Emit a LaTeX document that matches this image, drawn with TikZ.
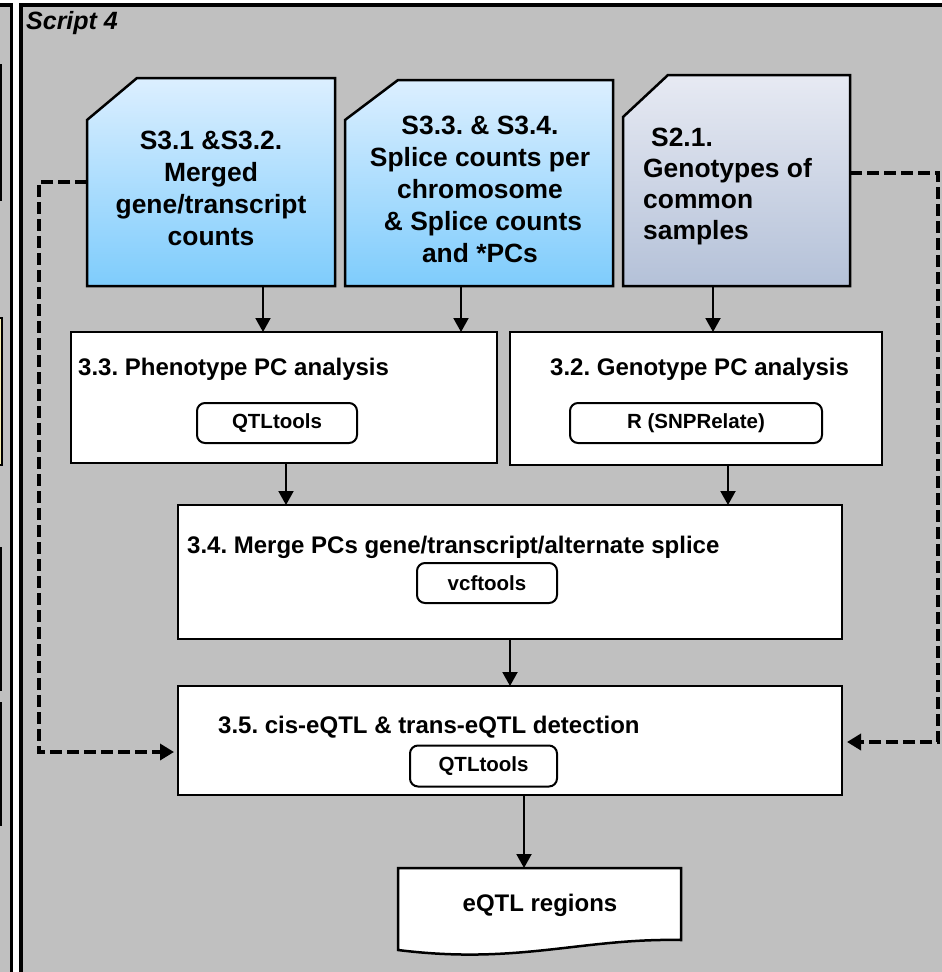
\documentclass[tikz,border=0pt]{standalone}
\usepackage{fontspec}
\setmainfont{Liberation Sans}
\usetikzlibrary{arrows.meta,backgrounds,calc}
\frenchspacing

\definecolor{panelgray}{HTML}{C0C0C0}
\definecolor{blueTop}{HTML}{DCEFFF}
\definecolor{blueBot}{HTML}{7ECCFC}
\definecolor{slateTop}{HTML}{E7EAF3}
\definecolor{slateBot}{HTML}{B4C1D8}
\definecolor{paleyellow}{HTML}{F6EDB0}

\newcommand\docfont{\bfseries\fontsize{26.4}{32}\selectfont}
\newcommand\docfontL{\bfseries\fontsize{26.4}{31}\selectfont}
\newcommand\titlefont{\bfseries\fontsize{24}{28}\selectfont}
\newcommand\toolfont{\bfseries\fontsize{20.5}{24}\selectfont}

\tikzset{
  panel/.style={draw=black, line width=3.5pt, fill=panelgray},
  edgebox/.style={draw=black, line width=2.5pt},
  area/.style={inner sep=0pt, outer sep=0pt},
  docshape/.style={draw=black, line width=2.5pt},
  doctext/.style={inner sep=0pt, font=\docfont, align=center},
  stepbox/.style={draw=black, line width=2.2pt, fill=white, inner sep=0pt, outer sep=0pt},
  steptitle/.style={inner sep=0pt, anchor=base west, font=\titlefont},
  toolbox/.style={draw=black, line width=2pt, fill=white, rounded corners=8pt,
                  inner sep=0pt, font=\toolfont},
  arr/.style={line width=2pt, -{Triangle[width=15pt,length=14pt]}},
  dasharr/.style={line width=3.5pt, dash pattern=on 12pt off 5pt,
                  -{Triangle[width=16pt,length=14pt]}},
}

\begin{document}
\begin{tikzpicture}[x=1pt,y=-1pt]
\useasboundingbox (0,0) rectangle (942,972);

% panel label
\node[inner sep=0pt, anchor=base west, font=\bfseries\itshape\fontsize{25}{30}\selectfont]
  (lbl) at (26,29) {Script 4};

% input documents (areas + text)
\node[area, minimum width=248pt, minimum height=208pt] (d1) at (211,182) {};
\node[area, minimum width=268pt, minimum height=206pt] (d2) at (479,183) {};
\node[area, minimum width=227pt, minimum height=211pt] (d3) at (736.5,180.5) {};

\node[doctext] (d1t) at (211,188) {S3.1 \&S3.2.\\Merged\\gene/transcript\\counts};
\node[doctext] (d2t) at (480,189) {S3.3. \& S3.4.\\Splice counts per\\chromosome\\\hspace*{6pt}\& Splice counts\\and *PCs};
\node[inner sep=0pt, font=\docfontL, align=left, anchor=west] (d3t) at (643,187)
  {\hspace*{8pt}S2.1.\\Genotypes of\\common\\samples};

% processing steps
\node[stepbox, minimum width=426pt, minimum height=131pt] (b33) at (284,397.5) {};
\node[stepbox, minimum width=372pt, minimum height=133pt] (b32) at (696,398.5) {};
\node[stepbox, minimum width=664pt, minimum height=134pt] (b34) at (510,572) {};
\node[stepbox, minimum width=664pt, minimum height=109pt] (b35) at (510,740.5) {};

\node[steptitle] (t33) at (78,375) {3.3. Phenotype PC analysis};
\node[steptitle] (t32) at (550,375) {3.2. Genotype PC analysis};
\node[steptitle] (t34) at (187,553) {3.4. Merge PCs gene/transcript/alternate splice};
\node[steptitle] (t35) at (218,733) {3.5. cis-eQTL \& trans-eQTL detection};

\node[toolbox, minimum width=160pt, minimum height=40pt] (q33) at (277,423) {QTLtools};
\node[toolbox, minimum width=252pt, minimum height=40pt] (r32) at (696,423) {R (SNPRelate)};
\node[toolbox, minimum width=140pt, minimum height=40pt] (v34) at (487,583) {vcftools};
\node[toolbox, minimum width=147pt, minimum height=41pt] (q35) at (483.5,766) {QTLtools};

% output document
\node[area, minimum width=283pt, minimum height=72pt] (eq) at (539.5,904) {};
\node[inner sep=0pt, font=\titlefont] (eqt) at (540,905) {eQTL regions};

% solid connectors
\draw[arr] ([xshift=52pt]d1.south) -- ([xshift=52pt]d1.south |- b33.north);
\draw[arr] ([xshift=-18pt]d2.south) -- ([xshift=-18pt]d2.south |- b33.north);
\draw[arr] ([xshift=-23.5pt]d3.south) -- ([xshift=-23.5pt]d3.south |- b32.north);
\draw[arr] ([xshift=2pt]b33.south) -- ([xshift=2pt]b33.south |- b34.north);
\draw[arr] ([xshift=32pt]b32.south) -- ([xshift=32pt]b32.south |- b34.north);
\draw[arr] (b34.south) -- (b35.north);
\draw[arr] ([xshift=14pt]b35.south) -- ([xshift=14pt]b35.south |- eq.north);

% dashed bypass connectors
\draw[dasharr] (d1.west) -- ++(-48,0) coordinate (lbend)
  |- ([yshift=-11.5pt,xshift=-4pt]b35.west);
\draw[dasharr] ([yshift=7.5pt]d3.east) -- ++(88,0) coordinate (rbend)
  |- ([yshift=-1.5pt,xshift=5pt]b35.east);

\begin{pgfonlayer}{background}
  \fill[white] (0,0) rectangle (942,972);
  % neighbouring panel (partly visible) and this panel
  \draw[panel] (-40,5) rectangle (11.5,1000);
  \draw[panel] (21,5) rectangle (1000,1000);
  \draw[edgebox] (-40,65) rectangle (1.2,200);
  \draw[edgebox, fill=paleyellow, line width=2pt] (-40,318) rectangle (2,465);
  \draw[edgebox] (-40,548) rectangle (1.2,690);
  \draw[edgebox] (-40,703) rectangle (1.2,825);
  % chamfered document shapes
  \path[docshape, top color=blueTop, bottom color=blueBot]
    (d1.south west) -- ($(d1.north west)+(0,42)$) -- ($(d1.north west)+(50,0)$)
    -- (d1.north east) -- (d1.south east) -- cycle;
  \path[docshape, top color=blueTop, bottom color=blueBot]
    (d2.south west) -- ($(d2.north west)+(0,40)$) -- ($(d2.north west)+(53,0)$)
    -- (d2.north east) -- (d2.south east) -- cycle;
  \path[docshape, top color=slateTop, bottom color=slateBot]
    (d3.south west) -- ($(d3.north west)+(0,42)$) -- ($(d3.north west)+(45,0)$)
    -- (d3.north east) -- (d3.south east) -- cycle;
  % wavy-bottom output document
  \path[docshape, fill=white]
    (eq.north west) -- (eq.north east) -- (eq.south east)
    .. controls ($(eq.south east)+(-100,-2)$) and ($(eq.south west)+(120,25)$)
    .. ($(eq.south west)+(0,10)$) -- cycle;
\end{pgfonlayer}
\end{tikzpicture}
\end{document}
